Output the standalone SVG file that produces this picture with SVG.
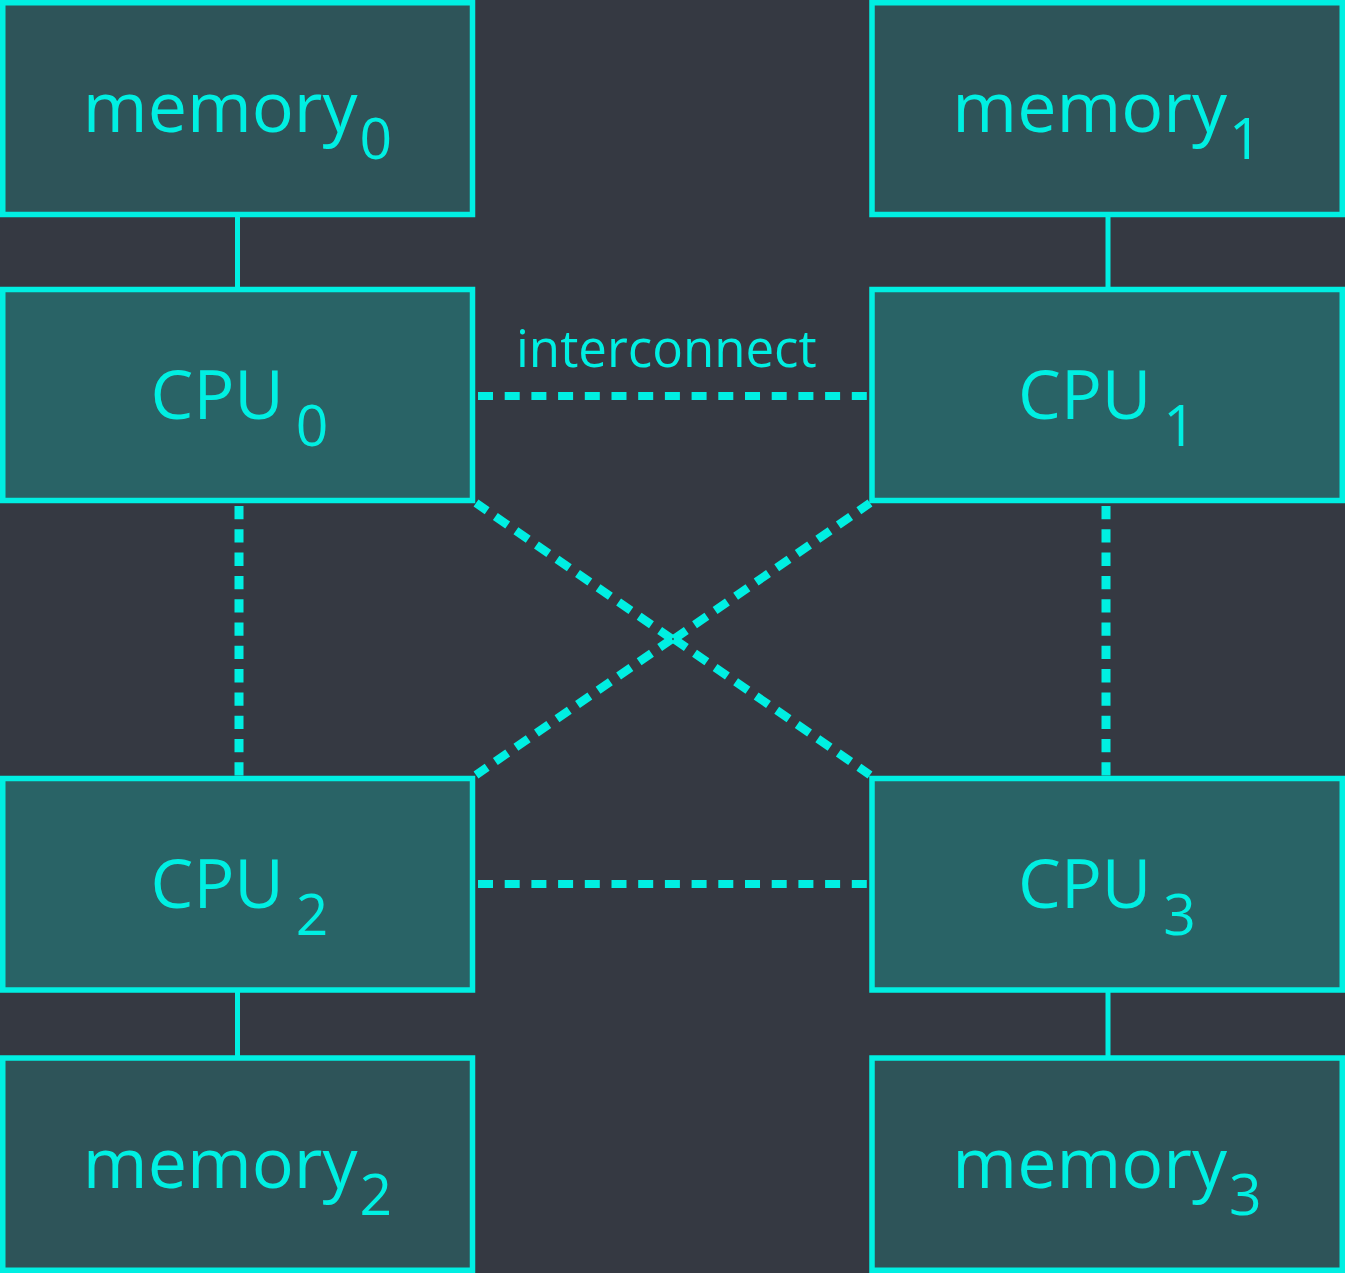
<svg xmlns="http://www.w3.org/2000/svg" width="1345" height="1273" viewBox="0 0 1345 1273">
<style>
.bg{fill:#353942}
.mem{fill:#2e5459;stroke:#00efe2;stroke-width:5.5}
.cpu{fill:#296366;stroke:#00efe2;stroke-width:5.5}
.lbl{font-family:"Open Sans","Liberation Sans",sans-serif;font-size:68px;fill:#00efe2;text-anchor:middle}
.mlbl{font-size:70px}
.sub{font-size:57px}
.solid{stroke:#00efe2;stroke-width:5;fill:none}
.dash{stroke:#00efe2;stroke-width:8;fill:none;stroke-dasharray:15 11.7}
.vdash{stroke:#00efe2;stroke-width:9;fill:none;stroke-dasharray:13.3 10}
.ddash{stroke:#00efe2;stroke-width:8.5;fill:none;stroke-dasharray:15 10}
.note{font-family:"Open Sans","Liberation Sans",sans-serif;font-size:51px;fill:#00efe2}
</style>
<rect class="bg" x="0" y="0" width="1345" height="1273"/>
<g id="connectors">
<line class="solid" x1="237.5" y1="214" x2="237.5" y2="290"/>
<line class="solid" x1="1108" y1="214" x2="1108" y2="290"/>
<line class="solid" x1="237.5" y1="990" x2="237.5" y2="1058"/>
<line class="solid" x1="1108" y1="990" x2="1108" y2="1058"/>
<line class="dash" x1="478" y1="396" x2="870" y2="396"/>
<line class="dash" x1="478" y1="884" x2="870" y2="884"/>
<line class="vdash" x1="239" y1="506" x2="239" y2="776"/>
<line class="vdash" x1="1106" y1="506" x2="1106" y2="776"/>
<line class="ddash" x1="672" y1="639" x2="476" y2="503"/>
<line class="ddash" x1="674" y1="639" x2="870" y2="775"/>
<line class="ddash" x1="674" y1="639" x2="870" y2="503"/>
<line class="ddash" x1="672" y1="639" x2="476" y2="775"/>
<text class="note" x="516" y="367">interconnect</text>
</g>
<g id="memory0">
<rect class="mem" x="2.75" y="2.75" width="469.75" height="211.75"/>
<text class="lbl mlbl" x="237.5" y="132">memory<tspan class="sub" dx="2" dy="27">0</tspan></text>
</g>
<g id="memory1">
<rect class="mem" x="872" y="2.75" width="470.25" height="211.75"/>
<text class="lbl mlbl" x="1107" y="132">memory<tspan class="sub" dx="2" dy="27">1</tspan></text>
</g>
<g id="cpu0">
<rect class="cpu" x="2.75" y="289.5" width="469.75" height="211"/>
<text class="lbl" x="239.5" y="419">CPU<tspan class="sub" dx="12" dy="27">0</tspan></text>
</g>
<g id="cpu1">
<rect class="cpu" x="872" y="289.5" width="470.25" height="211"/>
<text class="lbl" x="1107" y="419">CPU<tspan class="sub" dx="12" dy="27">1</tspan></text>
</g>
<g id="cpu2">
<rect class="cpu" x="2.75" y="778.5" width="469.75" height="211.5"/>
<text class="lbl" x="239.5" y="908">CPU<tspan class="sub" dx="12" dy="27">2</tspan></text>
</g>
<g id="cpu3">
<rect class="cpu" x="872" y="778.5" width="470.25" height="211.5"/>
<text class="lbl" x="1107" y="908">CPU<tspan class="sub" dx="12" dy="27">3</tspan></text>
</g>
<g id="memory2">
<rect class="mem" x="2.75" y="1058" width="469.75" height="212.25"/>
<text class="lbl mlbl" x="237.5" y="1188">memory<tspan class="sub" dx="2" dy="27">2</tspan></text>
</g>
<g id="memory3">
<rect class="mem" x="872" y="1058" width="470.25" height="212.25"/>
<text class="lbl mlbl" x="1107" y="1188">memory<tspan class="sub" dx="2" dy="27">3</tspan></text>
</g>
</svg>
